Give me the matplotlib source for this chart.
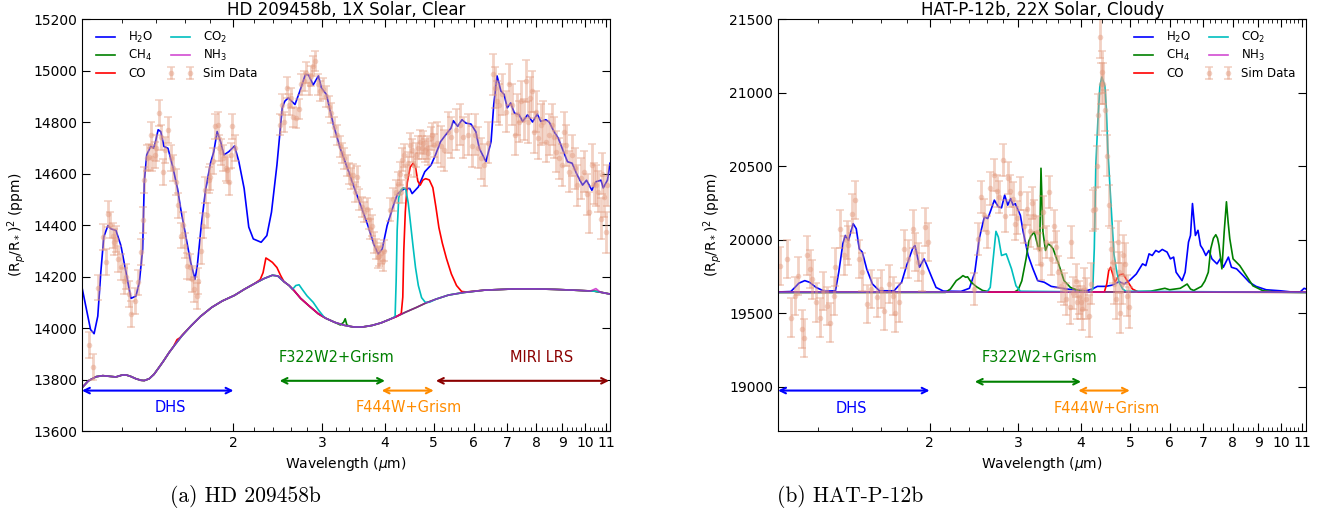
import numpy as np
import matplotlib
matplotlib.use('Agg')
import matplotlib.pyplot as plt
from matplotlib.ticker import FixedLocator, MultipleLocator, NullFormatter

# ---------------- HD 209458b (1X solar, clear) ----------------
hd_h2o_wl = [1.0, 1.04, 1.057, 1.075, 1.09, 1.105, 1.126, 1.142, 1.168, 1.195, 1.223, 1.251, 1.28,
             1.30, 1.32, 1.33, 1.345, 1.37, 1.388, 1.40, 1.417, 1.434, 1.455, 1.482, 1.512, 1.548,
             1.571, 1.607, 1.644, 1.677, 1.695, 1.726, 1.76, 1.80, 1.828, 1.856, 1.885, 1.914,
             1.958, 2.01, 2.05, 2.10, 2.145, 2.19, 2.27, 2.33, 2.38, 2.44, 2.50, 2.53, 2.57, 2.65,
             2.71, 2.78, 2.82, 2.88, 2.95, 2.99, 3.06, 3.16, 3.26, 3.38, 3.49, 3.60, 3.70, 3.80,
             3.88, 3.95, 4.04, 4.18, 4.24, 4.38, 4.48, 4.53, 4.66, 4.80, 4.94, 5.04, 5.16, 5.28,
             5.41, 5.47, 5.58, 5.69, 5.79, 5.93, 6.06, 6.16, 6.30, 6.35, 6.50, 6.58, 6.68, 6.80,
             6.90, 7.0, 7.11, 7.23, 7.39, 7.51, 7.68, 7.86, 8.03, 8.16, 8.35, 8.48, 8.67, 8.84,
             9.0, 9.22, 9.42, 9.64, 9.88, 10.06, 10.31, 10.5, 10.75, 10.86, 11.07, 11.2]
hd_h2o = [14158, 13994, 13978, 14046, 14217, 14354, 14398, 14385, 14379, 14320, 14217, 14115, 14124,
          14177, 14307, 14569, 14673, 14706, 14698, 14724, 14770, 14763, 14705, 14698, 14633, 14542,
          14463, 14359, 14256, 14189, 14242, 14398, 14535, 14639, 14685, 14763, 14724, 14672,
          14685, 14707, 14646, 14542, 14392, 14346, 14333, 14359, 14450, 14633, 14855, 14881, 14894, 14868,
          14920, 14985, 14983, 14944, 14979, 14933, 14907, 14789, 14698, 14613, 14535, 14463, 14398, 14326,
          14287, 14307, 14398, 14490, 14522, 14542, 14542, 14522, 14548, 14607, 14633, 14672, 14724, 14750,
          14776, 14805, 14783, 14809, 14796, 14792, 14763, 14698, 14659, 14646, 14724, 14867, 14979, 14920,
          14907, 14855, 14874, 14835, 14828, 14802, 14828, 14800, 14831, 14802, 14809, 14800, 14763, 14737,
          14698, 14646, 14640, 14594, 14555, 14574, 14535, 14568, 14574, 14544, 14574, 14640]

# continuum shared by the minor absorbers
hd_base_wl = [1.0, 1.03, 1.067, 1.10, 1.14, 1.168, 1.20, 1.223, 1.25, 1.28, 1.31, 1.33, 1.36, 1.39,
              1.42, 1.45, 1.49, 1.53, 1.58, 1.65, 1.72, 1.81, 1.90, 2.01, 2.10, 2.20, 2.30, 2.39,
              2.45, 2.52, 2.58, 2.64, 2.72, 2.83, 2.95, 3.05, 3.18, 3.33, 3.47, 3.61, 3.77, 3.93,
              4.08, 4.22, 4.40, 4.62, 4.82, 5.05, 5.35, 5.74, 6.3, 7.25, 8.0, 8.69, 9.5, 10.44,
              10.8, 11.2]
hd_base = [13768, 13795, 13811, 13815, 13812, 13810, 13817, 13818, 13812, 13803, 13797, 13796, 13803,
           13820, 13845, 13870, 13905, 13935, 13970, 14010, 14045, 14080, 14105, 14127, 14150, 14172,
           14192, 14205, 14202, 14180, 14165, 14145, 14115, 14085, 14055, 14038, 14022, 14010, 14004,
           14004, 14010, 14020, 14033, 14045, 14062, 14080, 14097, 14112, 14128, 14138, 14147, 14152,
           14152, 14150, 14147, 14143, 14138, 14132]

hd_ch4_feat_wl = [[3.26, 3.31, 3.335, 3.36, 3.41]]
hd_ch4_feat = [[14012, 14022, 14036, 14012, 14006]]
hd_co_feat_wl = [[1.52, 1.545, 1.565, 1.59],
                 [2.26, 2.29, 2.32, 2.35, 2.39, 2.44, 2.48, 2.52],
                 [4.31, 4.34, 4.36, 4.39, 4.43, 4.49, 4.55, 4.60, 4.65, 4.70, 4.76, 4.82, 4.90,
                  4.98, 5.05, 5.12, 5.20, 5.30, 5.42, 5.55, 5.68, 5.80]]
hd_co_feat = [[13928, 13955, 13962, 13977],
              [14188, 14215, 14272, 14265, 14255, 14235, 14205, 14180],
              [14056, 14120, 14300, 14450, 14565, 14625, 14640, 14625, 14570, 14555, 14575, 14580,
               14575, 14545, 14470, 14390, 14330, 14270, 14210, 14165, 14142, 14140]]
hd_co2_feat_wl = [[2.62, 2.66, 2.70, 2.74, 2.80, 2.88, 2.95, 3.02],
                  [4.19, 4.21, 4.23, 4.26, 4.30, 4.35, 4.40, 4.45, 4.50, 4.55, 4.60, 4.66, 4.73,
                   4.81, 4.90]]
hd_co2_feat = [[14150, 14165, 14168, 14150, 14125, 14100, 14070, 14045],
               [14044, 14180, 14380, 14505, 14535, 14545, 14538, 14485, 14400, 14315, 14235,
                14165, 14118, 14100, 14100]]
hd_nh3_feat_wl = [[10.25, 10.5, 10.7]]
hd_nh3_feat = [[14144, 14153, 14140]]

# simulated observations, one block per instrument mode
hd_dhs_wl = [1.035, 1.05, 1.075, 1.10, 1.115, 1.125, 1.135, 1.15, 1.16, 1.17, 1.18, 1.195, 1.21,
             1.225, 1.24, 1.25, 1.275, 1.29, 1.31, 1.32, 1.33, 1.345, 1.36, 1.37, 1.38, 1.395,
             1.405, 1.42, 1.435, 1.45, 1.465, 1.48, 1.50, 1.52, 1.54, 1.55, 1.57, 1.585, 1.60,
             1.62, 1.64, 1.655, 1.67, 1.69, 1.70, 1.72, 1.74, 1.755, 1.77, 1.785, 1.80, 1.82,
             1.84, 1.86, 1.875, 1.89, 1.91, 1.93, 1.945, 1.96, 1.975, 1.99, 2.01]
hd_dhs = [13935, 13850, 14157, 14353, 14255, 14444, 14400, 14359, 14333, 14346, 14268, 14237, 14183,
          14200, 14131, 14053, 14105, 14177, 14294, 14420, 14574, 14659, 14665, 14750, 14659, 14672,
          14700, 14835, 14740, 14607, 14690, 14770, 14659, 14620, 14568, 14476, 14359, 14400, 14320,
          14242, 14237, 14190, 14150, 14124, 14183, 14300, 14398, 14535, 14437, 14574, 14587, 14650,
          14783, 14789, 14700, 14685, 14660, 14620, 14613, 14568, 14670, 14783, 14700]
hd_dhs_err = 50
hd_f322_wl = [2.47, 2.50, 2.52, 2.55, 2.58, 2.60, 2.63, 2.66, 2.70, 2.73, 2.76, 2.79, 2.82, 2.85,
              2.88, 2.91, 2.94, 2.97, 3.01, 3.05, 3.09, 3.13, 3.17, 3.21, 3.25, 3.29, 3.32, 3.36,
              3.40, 3.43, 3.46, 3.49, 3.52, 3.56, 3.60, 3.64, 3.68, 3.71, 3.74, 3.77, 3.80, 3.84,
              3.87, 3.90, 3.93, 3.96, 3.99]
hd_f322 = [14790, 14868, 14800, 14933, 14868, 14894, 14820, 14815, 14850, 14946, 14960, 14992, 14946,
           14979, 15018, 15037, 14946, 14920, 14930, 14900, 14860, 14835, 14780, 14750, 14705, 14680,
           14659, 14630, 14600, 14581, 14596, 14529, 14588, 14500, 14470, 14450, 14463, 14424, 14385,
           14398, 14333, 14307, 14275, 14280, 14290, 14260, 14300]
hd_f322_err = 40
hd_f444_wl = [4.10, 4.15, 4.20, 4.24, 4.28, 4.31, 4.33, 4.37, 4.40, 4.44, 4.48, 4.52, 4.57, 4.62,
              4.66, 4.69, 4.73, 4.76, 4.80, 4.84, 4.88, 4.93, 4.97, 5.00]
hd_f444 = [14460, 14500, 14530, 14561, 14600, 14530, 14653, 14670, 14590, 14640, 14711, 14690, 14633,
           14672, 14700, 14724, 14700, 14720, 14690, 14700, 14680, 14737, 14750, 14710]
hd_f444_err = 45
hd_miri_wl = [5.08, 5.16, 5.25, 5.33, 5.42, 5.54, 5.65, 5.72, 5.85, 5.96, 6.04, 6.12, 6.20, 6.30,
              6.40, 6.55, 6.62, 6.68, 6.75, 6.83, 6.95, 7.06, 7.15, 7.25, 7.32, 7.39, 7.45, 7.55,
              7.62, 7.70, 7.75, 7.85, 7.92, 7.98, 8.07, 8.16, 8.25, 8.35, 8.48, 8.60, 8.68, 8.75,
              8.87, 9.00, 9.08, 9.15, 9.28, 9.42, 9.53, 9.64, 9.80, 9.95, 10.06, 10.17, 10.31,
              10.42, 10.50, 10.60, 10.75, 10.82, 10.90, 10.98, 11.07]
hd_miri = [14720, 14705, 14690, 14760, 14740, 14770, 14790, 14740, 14750, 14705, 14750, 14700, 14659,
           14633, 14720, 14985, 14933, 14880, 14868, 14907, 14840, 14946, 14868, 14750, 14830, 14802,
           14880, 14810, 14959, 14800, 14894, 14920, 14760, 14840, 14737, 14790, 14800, 14724, 14750,
           14790, 14740, 14685, 14659, 14633, 14760, 14710, 14607, 14670, 14620, 14555, 14581, 14607,
           14520, 14450, 14633, 14560, 14555, 14530, 14424, 14600, 14510, 14372, 14555]
hd_miri_err = 80

# ---------------- HAT-P-12b (22X solar, cloudy) ----------------
hat_h2o_wl = [1.00, 1.06, 1.08, 1.10, 1.13, 1.155, 1.19, 1.236, 1.30, 1.32, 1.345, 1.36, 1.38, 1.395,
              1.41, 1.43, 1.45, 1.47, 1.50, 1.54, 1.59, 1.70, 1.76, 1.80, 1.85, 1.87, 1.89, 1.91,
              1.95, 1.97, 2.02, 2.06, 2.13, 2.31, 2.40, 2.46, 2.51, 2.57, 2.61, 2.64, 2.69, 2.74,
              2.78, 2.82, 2.86, 2.90, 2.93, 2.96, 3.03, 3.07, 3.14, 3.21, 3.28, 3.38, 3.49, 3.74,
              4.09, 4.21, 4.31, 4.48, 4.62, 4.76, 4.87, 4.99, 5.15, 5.30, 5.38, 5.46, 5.54, 5.63,
              5.71, 5.80, 5.93, 6.02, 6.11, 6.18, 6.35, 6.44, 6.54, 6.60, 6.66, 6.75, 6.83, 6.91,
              6.98, 7.08, 7.18, 7.28, 7.45, 7.56, 7.67, 7.85, 7.96, 8.15, 8.40, 8.64, 8.91, 9.33,
              9.96, 10.42, 10.91, 11.1, 11.2]
hat_h2o = [19645, 19648, 19676, 19705, 19722, 19711, 19676, 19650, 19653, 19779, 19973, 20029, 19995,
           20053, 20109, 20075, 19938, 19916, 19802, 19699, 19653, 19653, 19711, 19824, 19938, 19961,
           19893, 19813, 19870, 19836, 19745, 19676, 19651, 19649, 19670, 19779, 20007, 20155, 20144,
           20189, 20269, 20224, 20217, 20303, 20235, 20280, 20235, 20246, 20166, 20053, 19893, 19802,
           19722, 19711, 19683, 19665, 19653, 19665, 19683, 19683, 19692, 19715, 19699, 19722, 19767,
           19836, 19824, 19904, 19893, 19927, 19916, 19934, 19916, 19870, 19882, 19779, 19722, 19779,
           19984, 20029, 20246, 20029, 20064, 19961, 19938, 19893, 19927, 19870, 19836, 19870, 19813,
           19882, 19813, 19802, 19756, 19711, 19683, 19660, 19653, 19646, 19646, 19670, 19665]

hat_base_wl = [1.0, 11.2]
hat_base = [19642, 19642]

hat_ch4_feat_wl = [[2.15, 2.20, 2.26, 2.30, 2.33, 2.36, 2.38, 2.42, 2.48, 2.55, 2.65],
                   [2.95, 3.00, 3.05, 3.11, 3.15, 3.18, 3.23, 3.28, 3.31, 3.33, 3.36, 3.40, 3.44,
                    3.48, 3.52, 3.57, 3.61, 3.70, 3.81, 3.95, 4.10],
                   [5.0, 5.5, 5.87, 6.0, 6.3, 6.5, 6.6, 6.7, 6.94, 7.05, 7.16, 7.24, 7.33, 7.41,
                    7.47, 7.52, 7.62, 7.70, 7.78, 7.84, 7.90, 8.02, 8.27, 8.52, 8.78, 9.2, 9.8]]
hat_ch4_feat = [[19642, 19665, 19722, 19740, 19756, 19745, 19748, 19711, 19680, 19655, 19645],
                [19645, 19660, 19720, 19870, 19990, 20025, 20053, 19961, 19927, 20486, 20053, 19927,
                 19973, 19960, 19938, 19880, 19836, 19722, 19676, 19655, 19645],
                [19645, 19650, 19670, 19660, 19670, 19699, 19665, 19655, 19683, 19720, 19779, 19938,
                 20010, 20034, 20010, 19961, 19802, 20053, 20258, 20120, 20007, 19870, 19824, 19756,
                 19687, 19653, 19644]]
hat_co_feat_wl = [[4.45, 4.50, 4.54, 4.58, 4.62, 4.67, 4.72, 4.77, 4.85, 4.94, 5.06, 5.2]]
hat_co_feat = [[19645, 19700, 19790, 19813, 19770, 19711, 19740, 19762, 19767, 19722, 19665, 19645]]
hat_co2_feat_wl = [[2.60, 2.64, 2.68, 2.71, 2.74, 2.78, 2.84, 2.91, 2.97, 3.03],
                   [4.18, 4.22, 4.25, 4.28, 4.32, 4.36, 4.40, 4.46, 4.49, 4.52, 4.58, 4.65, 4.70,
                    4.76, 4.84, 4.91]]
hat_co2_feat = [[19645, 19676, 19893, 20057, 20018, 19893, 19904, 19802, 19687, 19650],
                [19645, 19665, 19940, 20508, 20805, 21044, 21106, 21044, 20896, 20622, 20280, 19900,
                 19800, 19711, 19665, 19650]]
hat_nh3_feat_wl = []
hat_nh3_feat = []

hat_dhs_wl = [1.01, 1.04, 1.06, 1.08, 1.095, 1.115, 1.125, 1.14, 1.155, 1.17, 1.19, 1.21, 1.23, 1.25,
              1.27, 1.29, 1.30, 1.33, 1.35, 1.37, 1.38, 1.40, 1.42, 1.45, 1.47, 1.50, 1.53, 1.57,
              1.60, 1.62, 1.66, 1.69, 1.71, 1.74, 1.78, 1.81, 1.85, 1.87, 1.90, 1.93, 1.96, 1.99]
hat_dhs = [19820, 19870, 19471, 19619, 19756, 19391, 19330, 19893, 19802, 19730, 19574, 19471, 19653,
           19551, 19437, 19619, 19813, 20075, 19893, 20000, 19961, 20178, 20269, 19870, 19779, 19562,
           19665, 19608, 19665, 19516, 19699, 19619, 19505, 19574, 19938, 19870, 20075, 19916, 19847,
           19780, 20086, 19984]
hat_dhs_err = 130
hat_f322_wl = [2.45, 2.50, 2.53, 2.57, 2.60, 2.64, 2.68, 2.72, 2.75, 2.80, 2.83, 2.86, 2.89, 2.93,
               2.96, 2.99, 3.03, 3.08, 3.12, 3.16, 3.20, 3.23, 3.27, 3.30, 3.33, 3.36, 3.40, 3.45,
               3.48, 3.53, 3.57, 3.60, 3.65, 3.70, 3.74, 3.80, 3.82, 3.86, 3.90, 3.93, 3.96, 3.99]
hat_f322 = [19665, 20007, 20292, 20166, 20053, 20349, 20440, 20330, 20290, 20542, 20160, 20420, 20330,
            20280, 20110, 20150, 20315, 20090, 20212, 20060, 20250, 20160, 20050, 19938, 19836, 20190,
            19984, 20326, 19870, 20093, 19950, 19779, 19687, 19665, 19596, 19540, 19984, 19640, 19722,
            19574, 19608, 19574]
hat_f322_err = 110
hat_f444_wl = [4.02, 4.06, 4.10, 4.14, 4.18, 4.22, 4.27, 4.30, 4.33, 4.36, 4.38, 4.40, 4.43, 4.47,
               4.50, 4.55, 4.58, 4.62, 4.66, 4.70, 4.73, 4.76, 4.79, 4.82, 4.85, 4.89, 4.93, 4.97]
hat_f444 = [19528, 19665, 19600, 19482, 19700, 20200, 20212, 20500, 20850, 21375, 21060, 21140, 21060,
            20880, 20570, 20235, 19938, 19847, 19700, 19600, 19984, 19780, 19505, 19700, 19893, 19836,
            19620, 19540]
hat_f444_err = 140

xticks = [2, 3, 4, 5, 6, 7, 8, 9, 10, 11]

line_colors = {'H$_2$O': 'b', 'CH$_4$': 'g', 'CO': 'r', 'CO$_2$': 'c', 'NH$_3$': 'm'}
sim_color = '#e39a7e'


def with_features(base_wl, base_y, feats_wl, feats_y):
    wl = np.asarray(base_wl, float)
    y = np.asarray(base_y, float)
    for fw, fy in zip(feats_wl, feats_y):
        keep = (wl < min(fw)) | (wl > max(fw))
        wl = np.concatenate([wl[keep], fw])
        y = np.concatenate([y[keep], fy])
    order = np.argsort(wl)
    return wl[order], y[order]


def draw_panel(ax, h2o, base, feats, sims, title, ylim, yticks, loc):
    ax.plot(h2o[0], h2o[1], color='b', lw=1.2, label='H$_2$O')
    for name in ['CH$_4$', 'CO', 'CO$_2$', 'NH$_3$']:
        wl, y = with_features(base[0], base[1], *feats[name])
        ax.plot(wl, y, color=line_colors[name], lw=1.2, label=name,
                alpha=0.7 if name == 'NH$_3$' else 1.0)
    for i, (wl, y, err) in enumerate(sims):
        ax.errorbar(wl, y, yerr=err, fmt='o', color=sim_color, alpha=0.45, ms=4, mec='none',
                    elinewidth=2, capsize=3, capthick=1.2, label='Sim Data' if i == 0 else None)
    ax.set_xscale('log')
    ax.set_xlim(1.0, 11.2)
    ax.set_ylim(*ylim)
    ax.set_yticks(yticks)
    ax.xaxis.set_major_locator(FixedLocator(xticks))
    ax.xaxis.set_major_formatter(plt.FixedFormatter([str(t) for t in xticks]))
    ax.xaxis.set_minor_locator(MultipleLocator(0.2))
    ax.xaxis.set_minor_formatter(NullFormatter())
    ax.tick_params(which='both', direction='in', top=True, right=True, labelsize=10)
    ax.tick_params(which='major', length=6)
    ax.tick_params(which='minor', length=3)
    ax.set_xlabel(r'Wavelength ($\mu$m)', fontsize=10)
    ax.set_ylabel(r'(R$_p$/R$_*$)$^2$ (ppm)', fontsize=10)
    ax.set_title(title, fontsize=12, pad=2.5)
    ax.legend(loc=loc, ncol=2, frameon=False, fontsize=8.5, handlelength=2.2,
              columnspacing=1.2, labelspacing=0.3, numpoints=2)


def band(ax, x0, x1, y, color, label, tx, ty):
    ax.annotate('', xy=(x1, y), xytext=(x0, y),
                arrowprops=dict(arrowstyle='<->', color=color, lw=1.5, shrinkA=0, shrinkB=0))
    ax.text(tx, ty, label, color=color, fontsize=10.5, ha='center', va='center')


fig = plt.figure(figsize=(13.33, 5.21), dpi=100)
ax1 = fig.add_axes([0.0615, 0.1727, 0.3961, 0.7908])
ax2 = fig.add_axes([0.5837, 0.1727, 0.3961, 0.7908])

draw_panel(ax1, (hd_h2o_wl, hd_h2o), (hd_base_wl, hd_base),
           {'CH$_4$': (hd_ch4_feat_wl, hd_ch4_feat), 'CO': (hd_co_feat_wl, hd_co_feat),
            'CO$_2$': (hd_co2_feat_wl, hd_co2_feat), 'NH$_3$': (hd_nh3_feat_wl, hd_nh3_feat)},
           [(hd_dhs_wl, hd_dhs, hd_dhs_err), (hd_f322_wl, hd_f322, hd_f322_err),
            (hd_f444_wl, hd_f444, hd_f444_err), (hd_miri_wl, hd_miri, hd_miri_err)],
           'HD 209458b, 1X Solar, Clear', (13600, 15200), np.arange(13600, 15201, 200),
           'upper left')
band(ax1, 1.0, 2.0, 13757, 'b', 'DHS', 1.5, 13690)
band(ax1, 2.47, 4.0, 13795, 'g', 'F322W2+Grism', 3.2, 13885)
band(ax1, 3.94, 5.0, 13757, 'darkorange', 'F444W+Grism', 4.45, 13690)
band(ax1, 5.05, 11.15, 13795, 'darkred', 'MIRI LRS', 8.2, 13885)

draw_panel(ax2, (hat_h2o_wl, hat_h2o), (hat_base_wl, hat_base),
           {'CH$_4$': (hat_ch4_feat_wl, hat_ch4_feat), 'CO': (hat_co_feat_wl, hat_co_feat),
            'CO$_2$': (hat_co2_feat_wl, hat_co2_feat), 'NH$_3$': (hat_nh3_feat_wl, hat_nh3_feat)},
           [(hat_dhs_wl, hat_dhs, hat_dhs_err), (hat_f322_wl, hat_f322, hat_f322_err),
            (hat_f444_wl, hat_f444, hat_f444_err)],
           'HAT-P-12b, 22X Solar, Cloudy', (18700, 21500), np.arange(19000, 21501, 500),
           'upper right')
band(ax2, 1.0, 2.0, 18975, 'b', 'DHS', 1.40, 18855)
band(ax2, 2.46, 4.0, 19035, 'g', 'F322W2+Grism', 3.3, 19200)
band(ax2, 3.95, 5.0, 18975, 'darkorange', 'F444W+Grism', 4.5, 18855)

fig.text(245 / 1333, 1 - 497 / 521, '(a) HD 209458b', family='cmr10', fontsize=15.5,
         ha='center', va='center')
fig.text(850 / 1333, 1 - 497 / 521, '(b) HAT-P-12b', family='cmr10', fontsize=15.5,
         ha='center', va='center')

fig.savefig('out.png', dpi=100)
